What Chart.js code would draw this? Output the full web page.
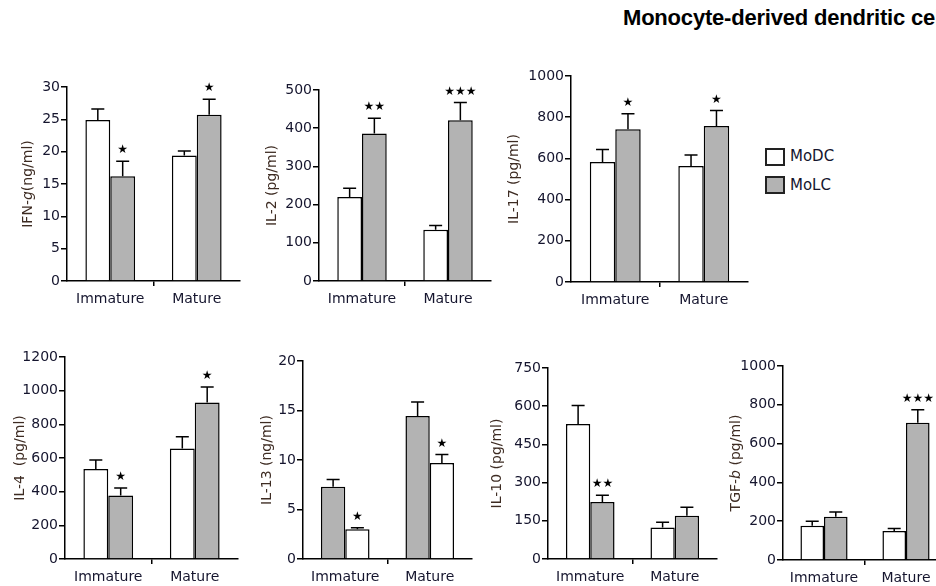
<!DOCTYPE html>
<html>
<head>
<meta charset="utf-8">
<script src="https://cdn.jsdelivr.net/npm/chart.js@4.4.1/dist/chart.umd.min.js"></script>
<style>
  html, body { margin: 0; padding: 0; background: #fff; }
  body { width: 936px; height: 586px; position: relative; overflow: hidden; }
  canvas { position: absolute; }
  #title {
    position: absolute; left: 623px; top: 5px; white-space: nowrap;
    font: bold 22px "Liberation Sans", Arial, sans-serif; letter-spacing: -0.2px; color: #000;
  }
  .leg { position: absolute; font: 15px "DejaVu Sans", sans-serif; color: #15152e; }
  .box { position: absolute; width: 16px; height: 14px; border: 2px solid #222; }
</style>
</head>
<body>
<div id="title">Monocyte-derived dendritic cells</div>
<div class="box" style="left:765px;top:148px;background:#fff"></div>
<div class="leg" style="left:790px;top:147px">MoDC</div>
<div class="box" style="left:765px;top:176px;background:#b3b3b3"></div>
<div class="leg" style="left:790px;top:176px">MoLC</div>

<script>
// categories and series
var groups = ['Immature', 'Mature'];
var seriesNames = ['MoDC', 'MoLC'];

// IFN-g (ng/ml)
var ifngModc = [24.9, 19.4];
var ifngModcSem = [1.7, 0.7];
var ifngMolc = [16.2, 25.7];
var ifngMolcSem = [2.3, 2.4];
var ifngStars = ['*', '*'];

// IL-2 (pg/ml)
var il2Modc = [220, 134];
var il2ModcSem = [23, 11];
var il2Molc = [386, 421];
var il2MolcSem = [40, 46];
var il2Stars = ['**', '***'];

// IL-17 (pg/ml)
var il17Modc = [583, 563];
var il17ModcSem = [60, 54];
var il17Molc = [741, 757];
var il17MolcSem = [76, 76];
var il17Stars = ['*', '*'];

// IL-4 (pg/ml)
var il4Modc = [535, 657];
var il4ModcSem = [53, 69];
var il4Molc = [377, 930];
var il4MolcSem = [45, 92];
var il4Stars = ['*', '*'];

// IL-13 (ng/ml) - in the figure the first bar is grey and the second is white
var il13First = [7.3, 14.45];
var il13FirstSem = [0.74, 1.4];
var il13Second = [3.0, 9.7];
var il13SecondSem = [0.15, 0.85];
var il13Stars = ['*', '*'];

// IL-10 (pg/ml)
var il10Modc = [530, 124];
var il10ModcSem = [73, 20];
var il10Molc = [224, 170];
var il10MolcSem = [26, 33];
var il10Stars = ['**', ''];

// TGF-b (pg/ml)
var tgfModc = [177, 149];
var tgfModcSem = [23, 14];
var tgfMolc = [223, 707];
var tgfMolcSem = [24, 68];
var tgfStars = ['', '***'];

// y axis ranges
var yMax = [30, 500, 1000, 1200, 20, 750, 1000];
var yStep = [5, 100, 200, 200, 5, 150, 200];

var WHITE = '#ffffff', GREY = '#b3b3b3';
var TICK_COLOR = '#15152e', TITLE_COLOR = '#3d2b22';

// error bars, significance stars and rotated axis titles
var extrasPlugin = {
  id: 'extras',
  afterDatasetsDraw: function (chart) {
    var c = chart.ctx, ys = chart.scales.y;
    var opts = chart.options.plugins.extras;
    chart.data.datasets.forEach(function (ds, di) {
      var meta = chart.getDatasetMeta(di);
      meta.data.forEach(function (bar, i) {
        var top = ys.getPixelForValue(ds.data[i] + ds.sem[i]);
        c.save();
        c.strokeStyle = '#000';
        c.lineWidth = 1.5;
        c.beginPath();
        c.moveTo(bar.x, bar.y);
        c.lineTo(bar.x, top);
        c.moveTo(bar.x - 6.5, top);
        c.lineTo(bar.x + 6.5, top);
        c.stroke();
        var s = ds.stars ? ds.stars[i] : '';
        if (s) {
          c.fillStyle = '#000';
          c.font = '12px "DejaVu Sans"';
          c.textAlign = 'center';
          c.textBaseline = 'middle';
          c.fillText(s.replace(/\*/g, '\u2605'), bar.x, top - 11);
        }
        c.restore();
      });
    });
    // y title
    var parts = opts.title;
    var area = chart.chartArea;
    c.save();
    c.translate(area.left - opts.titleOffset, (area.top + area.bottom) / 2);
    c.rotate(-Math.PI / 2);
    c.fillStyle = TITLE_COLOR;
    c.textBaseline = 'middle';
    var total = 0;
    parts.forEach(function (p) {
      c.font = (p[1] ? 'italic ' : '') + '14px "DejaVu Sans"';
      total += c.measureText(p[0]).width;
    });
    var x = -total / 2;
    parts.forEach(function (p) {
      c.font = (p[1] ? 'italic ' : '') + '14px "DejaVu Sans"';
      c.textAlign = 'left';
      c.fillText(p[0], x, 0);
      x += c.measureText(p[0]).width;
    });
    c.restore();
  }
};

var LEFT = 75, PADTOP = 14, XH = 30, PADR = 10;

function makePanel(id, box, title, titleOffset, max, step, sets) {
  var cv = document.createElement('canvas');
  var w = box.right - box.axis + LEFT + PADR;
  var h = box.zero - box.top + PADTOP + XH;
  cv.width = w; cv.height = h;
  cv.style.left = (box.axis - LEFT) + 'px';
  cv.style.top = (box.top - PADTOP) + 'px';
  cv.style.width = w + 'px';
  cv.style.height = h + 'px';
  document.body.appendChild(cv);

  new Chart(cv, {
    type: 'bar',
    data: {
      labels: groups,
      datasets: sets.map(function (s) {
        return {
          label: s.label,
          data: s.data,
          sem: s.sem,
          stars: s.stars,
          backgroundColor: s.color,
          borderColor: '#000',
          borderWidth: 1.5,
          categoryPercentage: 0.575,
          barPercentage: 1.0
        };
      })
    },
    options: {
      responsive: false,
      animation: false,
      devicePixelRatio: 1,
      layout: { padding: { top: PADTOP, right: PADR, left: 0, bottom: 0 } },
      plugins: {
        legend: { display: false },
        tooltip: { enabled: false },
        extras: { title: title, titleOffset: titleOffset }
      },
      scales: {
        x: {
          afterFit: function (s) { s.height = XH; },
          grid: {
            offset: true,
            drawOnChartArea: false,
            tickLength: 5,
            lineWidth: 1.5,
            color: function (ctx) { return ctx.index === 1 ? '#000' : 'rgba(0,0,0,0)'; }
          },
          border: { color: '#000', width: 1.5 },
          ticks: { color: TICK_COLOR, padding: 5, font: { family: 'DejaVu Sans', size: 14 } }
        },
        y: {
          min: 0, max: max,
          afterFit: function (s) { s.width = LEFT; },
          grid: { drawOnChartArea: false, tickLength: 6, lineWidth: 1.5, color: '#000' },
          border: { color: '#000', width: 1.5 },
          ticks: {
            stepSize: step, color: TICK_COLOR, padding: 1,
            font: { family: 'DejaVu Sans', size: 14 },
            callback: function (v) { return String(v); }
          }
        }
      }
    },
    plugins: [extrasPlugin]
  });
}

makePanel('ifng', { axis: 67, right: 240, top: 87, zero: 281 },
  [['IFN-', 0], ['g', 1], ['(ng/ml)', 0]], 39, yMax[0], yStep[0], [
    { label: seriesNames[0], data: ifngModc, sem: ifngModcSem, color: WHITE },
    { label: seriesNames[1], data: ifngMolc, sem: ifngMolcSem, stars: ifngStars, color: GREY }
  ]);

makePanel('il2', { axis: 319, right: 491, top: 90, zero: 281 },
  [['IL-2 (pg/ml)', 0]], 47, yMax[1], yStep[1], [
    { label: seriesNames[0], data: il2Modc, sem: il2ModcSem, color: WHITE },
    { label: seriesNames[1], data: il2Molc, sem: il2MolcSem, stars: il2Stars, color: GREY }
  ]);

makePanel('il17', { axis: 571, right: 748, top: 76, zero: 282 },
  [['IL-17 (pg/ml)', 0]], 57, yMax[2], yStep[2], [
    { label: seriesNames[0], data: il17Modc, sem: il17ModcSem, color: WHITE },
    { label: seriesNames[1], data: il17Molc, sem: il17MolcSem, stars: il17Stars, color: GREY }
  ]);

makePanel('il4', { axis: 65, right: 238, top: 357, zero: 559 },
  [['IL-4  (pg/ml)', 0]], 45, yMax[3], yStep[3], [
    { label: seriesNames[0], data: il4Modc, sem: il4ModcSem, color: WHITE },
    { label: seriesNames[1], data: il4Molc, sem: il4MolcSem, stars: il4Stars, color: GREY }
  ]);

makePanel('il13', { axis: 303, right: 472, top: 361, zero: 559 },
  [['IL-13 (ng/ml)', 0]], 36, yMax[4], yStep[4], [
    { label: seriesNames[0], data: il13First, sem: il13FirstSem, color: GREY },
    { label: seriesNames[1], data: il13Second, sem: il13SecondSem, stars: il13Stars, color: WHITE }
  ]);

makePanel('il10', { axis: 548, right: 717, top: 368, zero: 559 },
  [['IL-10 (pg/ml)', 0]], 51, yMax[5], yStep[5], [
    { label: seriesNames[0], data: il10Modc, sem: il10ModcSem, color: WHITE },
    { label: seriesNames[1], data: il10Molc, sem: il10MolcSem, stars: il10Stars, color: GREY }
  ]);

makePanel('tgf', { axis: 783, right: 947, top: 366, zero: 560 },
  [['TGF-', 0], ['b', 1], [' (pg/ml)', 0]], 47, yMax[6], yStep[6], [
    { label: seriesNames[0], data: tgfModc, sem: tgfModcSem, color: WHITE },
    { label: seriesNames[1], data: tgfMolc, sem: tgfMolcSem, stars: tgfStars, color: GREY }
  ]);
</script>
</body>
</html>
